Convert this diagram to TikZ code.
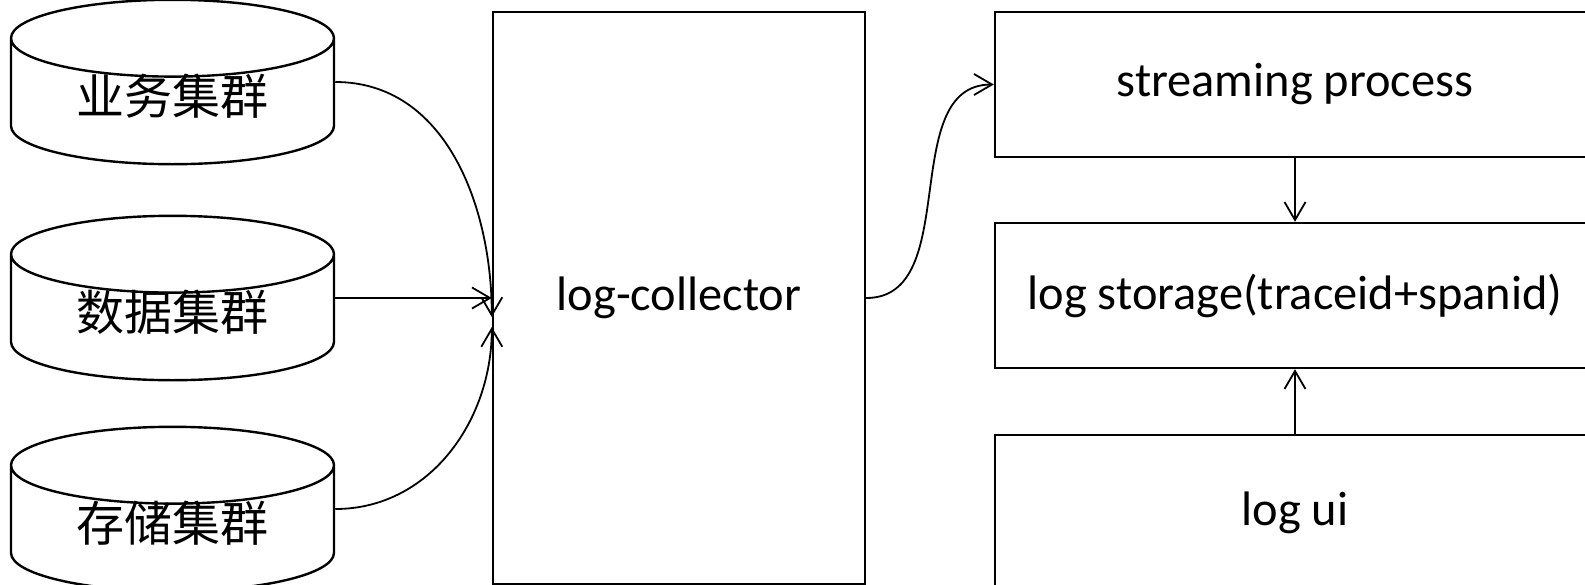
\documentclass[tikz,border=0pt]{standalone}
\usepackage{fontspec}
\setmainfont{Carlito}
\newfontfamily\cjk{Noto Sans CJK SC}
\usetikzlibrary{shapes.geometric,arrows.meta,positioning}

\begin{document}
\begin{tikzpicture}[x=0.5pt,y=-0.5pt,
	font=\fontsize{24.2}{28}\selectfont,
	>={Straight Barb[length=9pt,width=10.5pt]},
	db/.style={cylinder,shape border rotate=90,aspect=0.4,draw,line width=1.2pt,
		minimum width=161.5pt,minimum height=77.5pt,inner sep=0pt,anchor=shape center,
		text height=18.5pt,text depth=5.5pt,font=\cjk\fontsize{24}{28}\selectfont},
	box/.style={rectangle,draw,line width=1.2pt,inner sep=0pt},
	link/.style={->,line width=0.9pt}]
	\useasboundingbox (0,0) rectangle (1585,584);
	\node[db] (biz) at (172.5,82) {业务集群};
	\node[db] (data) at (172.5,298) {数据集群};
	\node[db] (store) at (172.5,509) {存储集群};
	\node[box,minimum width=186pt,minimum height=286pt] (lc) at (679,298) {log-collector};
	\node[box,minimum width=300pt,minimum height=72.5pt] (sp) at (1295,84.5) {streaming process};
	\node[box,minimum width=300pt,minimum height=72.5pt] (st) at (1295,295.5) {log storage(traceid+spanid)};
	\node[box,minimum width=300pt,minimum height=77.5pt] (ui) at (1295,512.5) {log ui};
	\draw[link] (biz.east |- biz.shape center) to[out=0,in=90] ([yshift=-9.5pt]lc.west);
	\draw[link] (data.east |- data.shape center) -- (data.shape center -| lc.west);
	\draw[link] (store.east |- store.shape center) to[out=0,in=-90] ([yshift=-14.5pt]lc.west);
	\draw[link] (lc.east) to[out=0,in=180] (sp.west);
	\draw[link] (sp) -- (st);
	\draw[link] (ui) -- (st);
\end{tikzpicture}
\end{document}
